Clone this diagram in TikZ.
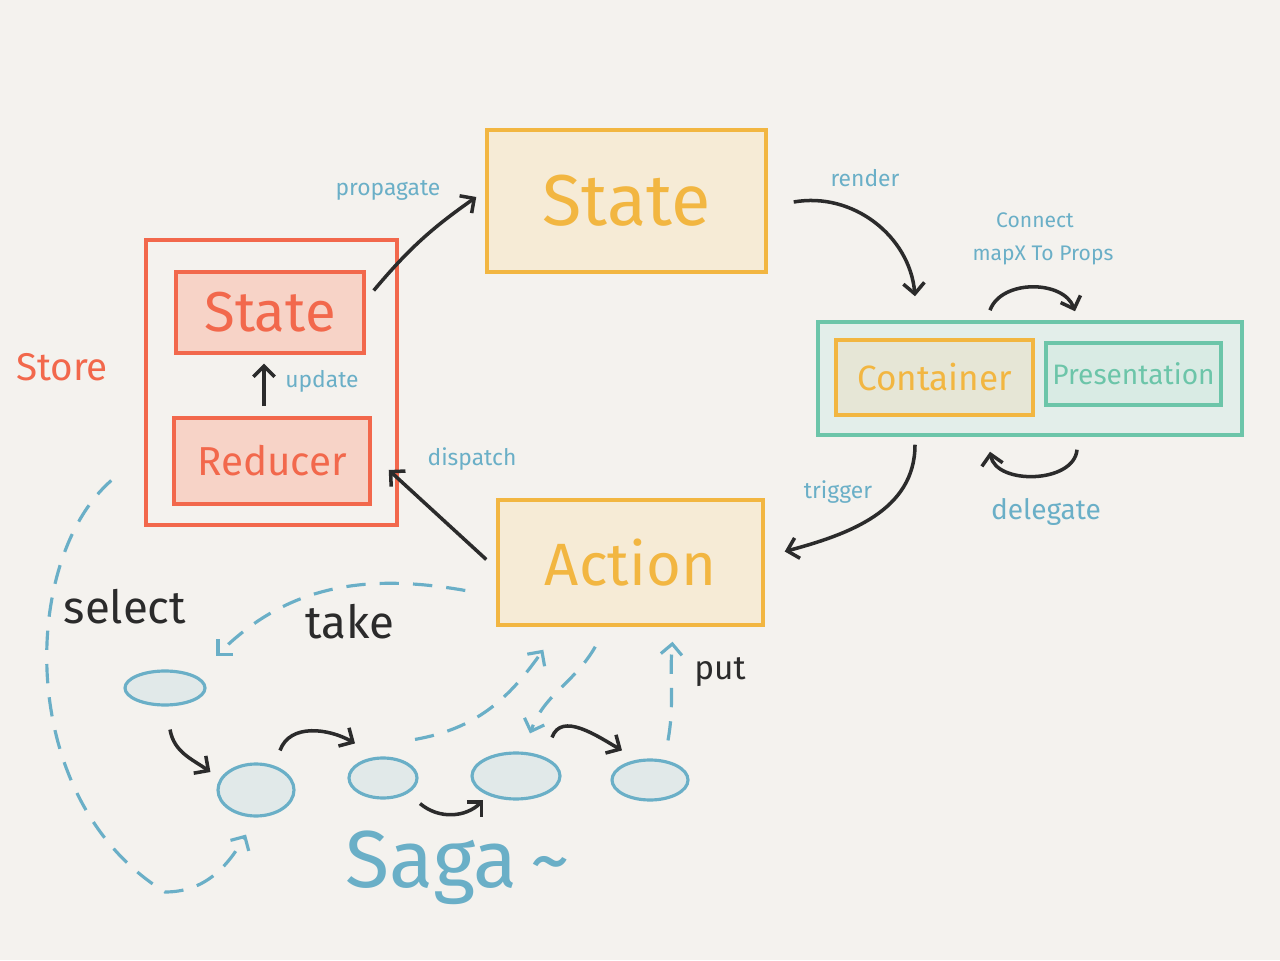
\documentclass[tikz,border=0pt]{standalone}
\usepackage{fontspec}
\setmainfont{Fira Sans}
\usepackage{tikz}
\usetikzlibrary{arrows.meta}
\usetikzlibrary{shapes.geometric}
\definecolor{paper}{HTML}{F4F2EE}
\definecolor{storered}{HTML}{F2684C}
\definecolor{redfill}{HTML}{F7D3C7}
\definecolor{gold}{HTML}{F2B641}
\definecolor{goldfill}{HTML}{F6EBD6}
\definecolor{mint}{HTML}{6CC5A9}
\definecolor{mintfill}{HTML}{E3EEEA}
\definecolor{mixfill}{HTML}{E6E6D6}
\definecolor{presfill}{HTML}{D9EBE4}
\definecolor{sagablue}{HTML}{6AAFC7}
\definecolor{bubble}{HTML}{E1E9E9}
\definecolor{ink}{HTML}{2B2B2B}

\begin{document}
\begin{tikzpicture}[x=0.02cm,y=0.02cm]
		\fill[paper] (0,0) rectangle (1280,960);
		\useasboundingbox (0,0) rectangle (1280,960);

		\begin{scope}[every node/.style={rectangle,draw,line width=2pt,inner sep=0pt}]
			\node[draw=storered,minimum width=5.02cm,minimum height=5.7cm] (store) at (271.5,577.5) {};
			\node[draw=storered,fill=redfill,text=storered,minimum width=3.76cm,minimum height=1.62cm,font=\fontsize{32}{32}\selectfont] (st) at (270,647.5) {State};
			\node[draw=storered,fill=redfill,text=storered,minimum width=3.92cm,minimum height=1.72cm,font=\fontsize{23}{23}\selectfont] (red) at (272,499) {Reducer};
			\node[draw=gold,fill=goldfill,text=gold,minimum width=5.58cm,minimum height=2.84cm,font=\fontsize{41}{41}\selectfont] (state) at (626.5,759) {State};
			\node[draw=gold,fill=goldfill,text=gold,minimum width=5.3cm,minimum height=2.5cm,font=\fontsize{34}{34}\selectfont] (action) at (630.5,397.5) {Action};
			\node[draw=mint,fill=mintfill,minimum width=8.48cm,minimum height=2.26cm] (cont) at (1030,581.5) {};
			\node[draw=gold,fill=mixfill,text=gold,minimum width=3.94cm,minimum height=1.5cm,font=\fontsize{20}{20}\selectfont] (container) at (934.5,582.5) {Container};
			\node[draw=mint,fill=presfill,text=mint,minimum width=3.5cm,minimum height=1.24cm,font=\fontsize{16}{16}\selectfont] (pres) at (1133.5,586) {Presentation};
		\end{scope}

		\begin{scope}[every node/.style={ellipse,draw=sagablue,fill=bubble,line width=1.8pt,inner sep=0pt}]
			\node[minimum width=1.6cm,minimum height=0.68cm] (e1) at (165,272) {};
			\node[minimum width=1.52cm,minimum height=1.04cm] (e2) at (256,170) {};
			\node[minimum width=1.36cm,minimum height=0.8cm] (e3) at (383,182) {};
			\node[minimum width=1.76cm,minimum height=0.92cm] (e4) at (516,184) {};
			\node[minimum width=1.52cm,minimum height=0.8cm] (e5) at (650,180) {};
		\end{scope}

		\begin{scope}[every node/.style={text=sagablue,font=\fontsize{13}{13}\selectfont}]
			\node (propagate) at (388,770) {propagate};
			\node (render) at (865,782) {render};
			\node[font=\fontsize{12}{12}\selectfont] (connect) at (1035,740) {Connect};
			\node[font=\fontsize{12}{12}\selectfont] (mapx) at (1043,705) {mapX To Props};
			\node (update) at (322,579) {update};
			\node (dispatch) at (472,501) {dispatch};
			\node (trigger) at (838,468) {trigger};
			\node[font=\fontsize{16}{16}\selectfont] (delegate) at (1046,448) {delegate};
			\node[text=storered,font=\fontsize{22}{22}\selectfont] (storelabel) at (62,593) {Store};
			\node[font=\fontsize{46}{46}\selectfont] (saga) at (458,92) {Saga\,\textasciitilde};
			\node[text=ink,font=\fontsize{26}{26}\selectfont] (select) at (125,353) {select};
			\node[text=ink,font=\fontsize{26}{26}\selectfont] (take) at (350,338) {take};
			\node[text=ink,font=\fontsize{19}{19}\selectfont] (put) at (720,288) {put};
		\end{scope}

		\begin{scope}[>={Straight Barb[length=6pt,width=12pt]},
		              every edge/.style={draw=ink,line width=2pt,->}]
			\path ([shift={(8,22)}]st.east) edge[out=50,in=215] ([shift={(-9,4)}]state.west);
			\path ([shift={(26,-1)}]state.east) edge[out=10,in=95] ([shift={(-115,24)}]cont.north);
			\path ([shift={(-40,10)}]cont.north) edge[out=70,in=110] ([shift={(45,9)}]cont.north);
			\path ([shift={(47,-13)}]cont.south) edge[out=-95,in=-80] ([shift={(-40,-15)}]cont.south);
			\path ([shift={(-115,-8)}]cont.south) edge[out=-90,in=15] ([shift={(20,11)}]action.east);
			\path ([shift={(-10,3)}]action.west) edge ([shift={(17,-9)}]red.east);
			\path ([shift={(-8,10)}]red.north) edge ([shift={(-6,-9)}]st.south);
			\path ([shift={(5,-23)}]e1.south) edge[out=-80,in=145] ([shift={(-6,18)}]e2.west);
			\path ([shift={(24,12)}]e2.north) edge[out=70,in=150] ([shift={(-28,13)}]e3.north);
			\path ([shift={(37,-4)}]e3.south) edge[out=-40,in=225] ([shift={(13,-24)}]e4.west);
			\path ([shift={(36,14)}]e4.north) edge[out=70,in=150] ([shift={(-28,8)}]e5.north);
		\end{scope}

		\begin{scope}[>={Straight Barb[length=6pt,width=12pt]},
		              every edge/.style={draw=sagablue,line width=1.8pt,dash pattern=on 11pt off 8pt,->}]
			\coordinate (selbot) at (165,68);
			\draw[sagablue,line width=1.8pt,dash pattern=on 11pt off 8pt,->] ([shift={(-33,-98)}]store.west) .. controls (20,400) and (15,160) .. (selbot) to[out=0,in=240] ([shift={(-10,-17)}]e2.south);
			\path ([shift={(-31,-28)}]action.west) edge[out=170,in=45] ([shift={(22,19)}]e1.north east);
			\path ([shift={(32,17)}]e3.north) edge[out=10,in=235] ([shift={(47,-23)}]action.south west);
			\path ([shift={(99,-20)}]action.south west) edge[out=240,in=70] ([shift={(14,18)}]e4.north);
			\path ([shift={(18,18)}]e5.north) edge[out=80,in=-95] ([shift={(42,-15)}]action.south);
		\end{scope}
\end{tikzpicture}
\end{document}
